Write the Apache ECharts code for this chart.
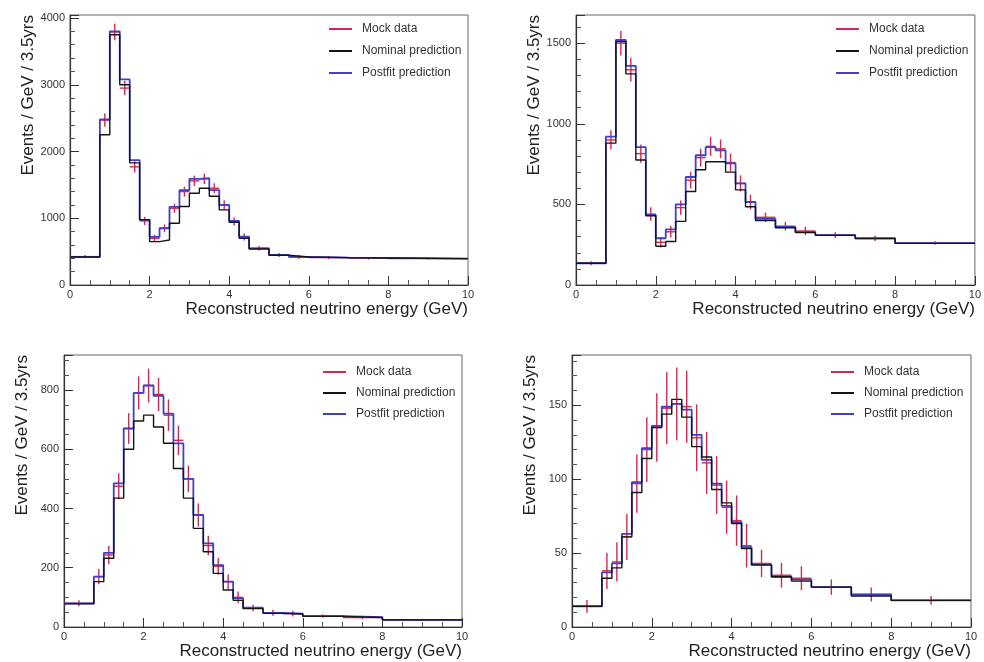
<!DOCTYPE html>
<html lang="en">

<head>
    <meta charset="UTF-8">
    <title>Reconstructed neutrino energy</title>
    <script src="https://cdnjs.cloudflare.com/ajax/libs/echarts/6.0.0/echarts.min.js"></script>
    <style>
        body { margin: 0; background: #fff; }
    </style>
</head>

<body>
    <div id="main" style="width: 984px;height:662px;"></div>

    <script type="text/javascript">
        // bin edges (GeV), same for every panel
        const edges = [0, 0.75, 1, 1.25, 1.5, 1.75, 2, 2.25, 2.5, 2.75, 3, 3.25, 3.5, 3.75, 4, 4.25, 4.5, 5, 5.5, 6, 7, 8, 10];

        // top left
        const numuFhcMock = [425, 2470, 3790, 2950, 1770, 960, 700, 850, 1150, 1400, 1560, 1590, 1450, 1200, 950, 720, 550, 450, 420, 410, 400, 395];
        const numuFhcMockErr = [24, 99, 123, 109, 84, 62, 53, 58, 68, 75, 79, 80, 76, 69, 62, 54, 33, 30, 29, 20, 20, 14];
        const numuFhcNominal = [420, 2250, 3750, 3000, 1830, 980, 650, 675, 925, 1175, 1375, 1450, 1330, 1125, 940, 700, 540, 445, 420, 410, 405, 395];
        const numuFhcPostfit = [420, 2480, 3800, 3080, 1870, 975, 720, 850, 1170, 1420, 1590, 1600, 1420, 1200, 960, 725, 550, 450, 420, 410, 405, 395];

        // top right
        const numuRhcMock = [135, 900, 1500, 1335, 815, 440, 265, 330, 480, 650, 790, 860, 845, 760, 630, 515, 420, 365, 335, 310, 290, 260];
        const numuRhcMockErr = [13, 60, 77, 73, 57, 42, 33, 36, 44, 51, 56, 59, 58, 55, 50, 45, 29, 27, 26, 18, 17, 11];
        const numuRhcNominal = [135, 880, 1510, 1310, 775, 430, 240, 270, 395, 580, 715, 765, 765, 700, 590, 485, 400, 355, 325, 308, 288, 258];
        const numuRhcPostfit = [135, 920, 1520, 1360, 855, 435, 290, 345, 500, 670, 805, 855, 835, 755, 630, 515, 410, 360, 330, 310, 290, 260];

        // bottom left
        const nueFhcMock = [80, 170, 243, 475, 670, 790, 815, 785, 715, 630, 500, 378, 275, 205, 153, 100, 64, 48, 45, 37, 32, 24];
        const nueFhcMockErr = [10, 26, 31, 44, 52, 56, 57, 56, 53, 50, 45, 39, 33, 29, 25, 20, 11, 10, 9.5, 6, 5.7, 3.5];
        const nueFhcNominal = [78, 153, 232, 435, 600, 695, 715, 675, 620, 535, 435, 333, 254, 181, 125, 90, 62, 46, 44, 36, 32, 24];
        const nueFhcPostfit = [80, 170, 250, 485, 670, 790, 815, 780, 720, 620, 500, 378, 282, 209, 153, 97, 65, 48, 45, 37, 33, 24];

        // bottom right
        const nueRhcMock = [14, 38, 44, 61, 97, 120, 135, 148, 151, 149, 128, 111, 96, 81, 72, 55, 43, 35, 33, 27, 22, 18];
        const nueRhcMockErr = [4.3, 12.3, 13.3, 15.6, 19.7, 21.9, 23.2, 24.3, 24.6, 24.4, 22.6, 21, 19.6, 18, 17, 14.8, 9.3, 8.4, 8.1, 5.2, 4.7, 3];
        const nueRhcNominal = [14, 33, 40, 61, 91, 114, 135, 144, 154, 142, 122, 115, 93, 84, 70, 53, 42, 34, 31, 27, 21, 18];
        const nueRhcPostfit = [14, 37, 43, 63, 98, 121, 136, 149, 151, 147, 130, 113, 97, 82, 71, 54, 42, 34, 32, 27, 22, 18];

        const legendNames = ['Mock data', 'Nominal prediction', 'Postfit prediction'];
        const xTicks = [0, 2, 4, 6, 8, 10];

        const mockColor = '#d22a4e';
        const nominalColor = '#151515';
        const postfitColor = '#4040c8';

        const panels = [
            { mock: numuFhcMock, err: numuFhcMockErr, nominal: numuFhcNominal, postfit: numuFhcPostfit, yMax: 4045, yStep: 1000, yMinor: 5,
              grid: { left: 70, top: 15, width: 398, height: 270 }, legend: { left: 324, top: 18, gap: 10 } },
            { mock: numuRhcMock, err: numuRhcMockErr, nominal: numuRhcNominal, postfit: numuRhcPostfit, yMax: 1675, yStep: 500, yMinor: 5,
              grid: { left: 576, top: 15, width: 399, height: 270 }, legend: { left: 831, top: 18, gap: 10 } },
            { mock: nueFhcMock, err: nueFhcMockErr, nominal: nueFhcNominal, postfit: nueFhcPostfit, yMax: 918, yStep: 200, yMinor: 4,
              grid: { left: 64, top: 355, width: 398, height: 272 }, legend: { left: 318, top: 361, gap: 9 } },
            { mock: nueRhcMock, err: nueRhcMockErr, nominal: nueRhcNominal, postfit: nueRhcPostfit, yMax: 184, yStep: 50, yMinor: 5,
              grid: { left: 572, top: 355, width: 399, height: 272 }, legend: { left: 826, top: 361, gap: 9 } }
        ];

        function stepData(values) {
            const pts = values.map((v, i) => [edges[i], v]);
            pts.push([edges[edges.length - 1], values[values.length - 1]]);
            return pts;
        }

        function mockData(values, errors) {
            return values.map((v, i) => [(edges[i] + edges[i + 1]) / 2, v, errors[i], edges[i], edges[i + 1]]);
        }

        function renderMock(params, api) {
            const x = api.value(0), y = api.value(1), e = api.value(2);
            const lo = api.coord([api.value(3), y]);
            const hi = api.coord([api.value(4), y]);
            const top = api.coord([x, y + e]);
            const bottom = api.coord([x, Math.max(y - e, 0)]);
            const style = { stroke: mockColor, lineWidth: 1.4 };
            return {
                type: 'group',
                children: [
                    { type: 'line', shape: { x1: lo[0], y1: lo[1], x2: hi[0], y2: hi[1] }, style: style },
                    { type: 'line', shape: { x1: top[0], y1: top[1], x2: bottom[0], y2: bottom[1] }, style: style }
                ]
            };
        }

        const myChart = echarts.init(document.getElementById('main'));

        const grids = [], xAxes = [], yAxes = [], legends = [], series = [];
        const font = 'Liberation Sans, Arial, sans-serif';

        panels.forEach((p, k) => {
            grids.push(Object.assign({ show: true, borderColor: '#666', borderWidth: 1, containLabel: false }, p.grid));

            xAxes.push({
                type: 'value', gridIndex: k, min: 0, max: 10, interval: 2,
                axisLine: { show: true, onZero: false, lineStyle: { color: '#333', width: 1.2 } },
                axisTick: { show: true, inside: true, length: 9, lineStyle: { color: '#333' } },
                minorTick: { show: true, splitNumber: 4, length: 5, lineStyle: { color: '#555' } },
                splitLine: { show: false },
                axisLabel: { fontSize: 11, color: '#333', margin: 4, fontFamily: font, formatter: v => (xTicks.indexOf(v) >= 0 ? String(v) : '') },
                name: 'Reconstructed neutrino energy (GeV)',
                nameLocation: 'end', nameGap: 0,
                nameTextStyle: { fontSize: 17, color: '#222', fontFamily: font, align: 'right', verticalAlign: 'top', padding: [16, 0, 0, 0] }
            });

            yAxes.push({
                type: 'value', gridIndex: k, min: 0, max: p.yMax, interval: p.yStep,
                axisLine: { show: true, lineStyle: { color: '#333', width: 1.2 } },
                axisTick: { show: true, inside: true, length: 9, lineStyle: { color: '#333' } },
                minorTick: { show: true, splitNumber: p.yMinor, length: 5, lineStyle: { color: '#555' } },
                splitLine: { show: false },
                axisLabel: { fontSize: 11, color: '#333', margin: 5, fontFamily: font, showMaxLabel: false, formatter: v => String(v) },
                name: 'Events / GeV / 3.5yrs',
                nameLocation: 'end', nameGap: 0, nameRotate: 90,
                nameTextStyle: { fontSize: 17, color: '#222', fontFamily: font, align: 'right', verticalAlign: 'bottom', padding: [0, 0, 33, 0] }
            });

            legends.push({
                data: legendNames, orient: 'vertical', left: p.legend.left, top: p.legend.top,
                itemWidth: 23, itemHeight: 2, itemGap: p.legend.gap, icon: 'rect',
                textStyle: { fontSize: 12, color: '#333', fontFamily: font, padding: [0, 0, 0, 5] },
                selectedMode: false
            });

            series.push({
                name: 'Postfit prediction', type: 'line', step: 'end', xAxisIndex: k, yAxisIndex: k,
                data: stepData(p.postfit), showSymbol: false, symbol: 'none',
                lineStyle: { color: postfitColor, width: 1.8 }, itemStyle: { color: postfitColor },
                animation: false
            });
            series.push({
                name: 'Nominal prediction', type: 'line', step: 'end', xAxisIndex: k, yAxisIndex: k,
                data: stepData(p.nominal), showSymbol: false, symbol: 'none',
                lineStyle: { color: nominalColor, width: 1.4 }, itemStyle: { color: nominalColor },
                animation: false
            });
            series.push({
                name: 'Mock data', type: 'custom', xAxisIndex: k, yAxisIndex: k,
                data: mockData(p.mock, p.err), renderItem: renderMock,
                encode: { x: 0, y: 1 }, itemStyle: { color: mockColor },
                animation: false
            });
        });

        const option = {
            animation: false,
            grid: grids,
            xAxis: xAxes,
            yAxis: yAxes,
            legend: legends,
            series: series
        };

        myChart.setOption(option);
    </script>
</body>

</html>
